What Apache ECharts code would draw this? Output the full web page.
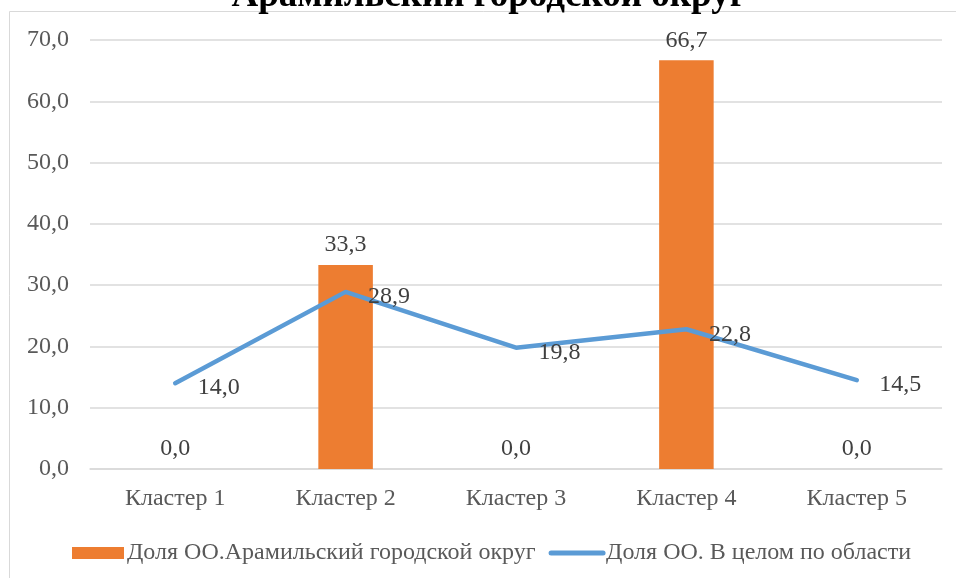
<!DOCTYPE html>
<html><head><meta charset="utf-8">
<script src="https://cdn.jsdelivr.net/npm/echarts@6/dist/echarts.min.js"></script>
<style>html,body{margin:0;padding:0;background:#fff}#c{width:956px;height:578px}</style>
</head><body><div id="c"></div>
<script>
const titleText = 'Арамильский городской округ';
const categories = ['Кластер 1','Кластер 2','Кластер 3','Кластер 4','Кластер 5'];
const barName = 'Доля ОО.Арамильский городской округ';
const barValues = [0.0, 33.3, 0.0, 66.7, 0.0];
const lineName = 'Доля ОО. В целом по области';
const lineValues = [14.0, 28.9, 19.8, 22.8, 14.5];

const FONT = '"Liberation Serif", "Times New Roman", serif';
const fmt = v => Number(v).toFixed(1).replace('.', ',');
const chart = echarts.init(document.getElementById('c'));
chart.setOption({
  animation: false,
  textStyle: { fontFamily: FONT },
  graphic: [
    { type: 'rect', shape: { x: 9.5, y: 11.5, width: 1200, height: 1200 }, style: { fill: 'none', stroke: '#d9d9d9', lineWidth: 1 }, z: -1 },
    { type: 'text', x: 489, y: 15, style: { text: titleText, font: 'bold 37px ' + FONT, fill: '#000', textAlign: 'center', textVerticalAlign: 'bottom' } }
  ],
  grid: { left: 90, right: 14, top: 40, bottom: 109 },
  legend: {
    bottom: 8, left: 67,
    itemWidth: 52, itemHeight: 12, itemGap: 13,
    textStyle: { fontFamily: FONT, fontSize: 24, color: '#595959', padding: [0, 0, 0, -2] },
    data: [
      { name: barName, icon: 'rect', itemStyle: { color: '#ED7D31', opacity: 1 } },
      { name: lineName, itemStyle: { opacity: 0 }, lineStyle: { color: '#5B9BD5', width: 5, cap: 'round', opacity: 1 } }
    ]
  },
  xAxis: {
    type: 'category', data: categories,
    axisLine: { lineStyle: { color: '#d9d9d9', width: 1.5 } },
    axisTick: { show: false },
    axisLabel: { fontFamily: FONT, fontSize: 24, color: '#595959', margin: 18 }
  },
  yAxis: {
    type: 'value', min: 0, max: 70, interval: 10,
    axisLine: { show: false }, axisTick: { show: false },
    splitLine: { lineStyle: { color: '#d9d9d9', width: 1.5 } },
    axisLabel: { fontFamily: FONT, fontSize: 24, color: '#595959', margin: 21, formatter: fmt }
  },
  series: [
    {
      name: barName, type: 'bar', data: barValues, barWidth: '32%',
      itemStyle: { color: '#ED7D31' },
      label: { show: true, position: 'top', distance: 8, fontFamily: FONT, fontSize: 24, color: '#404040', formatter: p => fmt(p.value) }
    },
    {
      name: lineName, type: 'line', data: lineValues, symbol: 'circle', symbolSize: 1, showSymbol: true,
      lineStyle: { color: '#5B9BD5', width: 4.5, cap: 'round' }, itemStyle: { color: '#5B9BD5', opacity: 0 },
      label: { show: true, position: 'right', distance: 22, offset: [0, 5], fontFamily: FONT, fontSize: 24, color: '#404040', opacity: 1, formatter: p => fmt(p.value) }
    }
  ]
});
</script></body></html>
